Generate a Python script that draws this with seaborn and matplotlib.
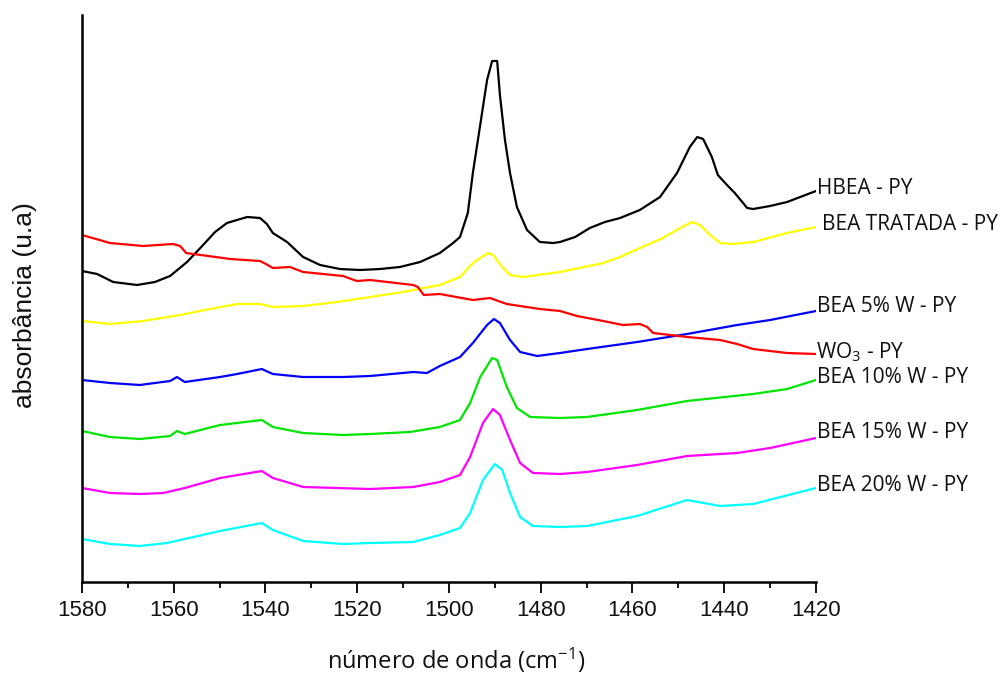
import numpy as np
import pandas as pd
import matplotlib
matplotlib.use("Agg")
import matplotlib.pyplot as plt
from matplotlib.ticker import MultipleLocator
import seaborn as sns

# FTIR spectra of adsorbed pyridine (stacked, arbitrary units)
hbea_wn = [1580.0, 1576.7, 1573.2, 1568.0, 1564.1, 1560.8, 1557.1, 1553.6, 1551.0, 1548.4,
           1544.0, 1541.2, 1539.7, 1538.4, 1535.3, 1531.8, 1528.1, 1523.8, 1519.4, 1515.0,
           1510.7, 1506.3, 1502.0, 1499.1, 1497.6, 1495.9, 1494.8, 1493.7, 1492.6, 1491.7,
           1490.6, 1489.5, 1488.9, 1487.8, 1486.7, 1485.2, 1483.0, 1480.2, 1477.3, 1475.8,
           1472.5, 1469.3, 1466.0, 1462.7, 1458.4, 1454.0, 1450.3, 1447.5, 1445.9, 1444.6,
           1442.7, 1441.4, 1439.4, 1437.7, 1435.0, 1433.7, 1430.0, 1426.3, 1420.0]
hbea_abs = [3.09, 3.06, 2.98, 2.95, 2.98, 3.04, 3.18, 3.35, 3.48, 3.57,
            3.63, 3.62, 3.56, 3.47, 3.38, 3.23, 3.15, 3.11, 3.10, 3.11,
            3.13, 3.18, 3.27, 3.37, 3.43, 3.67, 4.07, 4.40, 4.73, 5.00,
            5.19, 5.19, 4.85, 4.40, 4.07, 3.73, 3.50, 3.38, 3.37, 3.38,
            3.43, 3.52, 3.58, 3.62, 3.70, 3.83, 4.07, 4.33, 4.43, 4.41,
            4.23, 4.05, 3.95, 3.87, 3.72, 3.71, 3.74, 3.78, 3.89]

tratada_wn = [1580.0, 1573.9, 1566.7, 1558.6, 1552.1, 1546.2, 1541.2, 1538.4, 1531.8, 1524.4,
              1517.2, 1510.0, 1502.0, 1497.6, 1494.8, 1493.2, 1491.5, 1490.4, 1488.4, 1486.7,
              1483.9, 1475.8, 1466.4, 1462.7, 1458.4, 1453.4, 1449.2, 1447.0, 1445.3, 1443.1,
              1440.9, 1438.1, 1433.7, 1426.3, 1420.0]
tratada_abs = [2.59, 2.56, 2.59, 2.65, 2.71, 2.76, 2.76, 2.73, 2.74, 2.78,
               2.83, 2.88, 2.95, 3.03, 3.17, 3.22, 3.27, 3.25, 3.13, 3.05,
               3.03, 3.08, 3.17, 3.23, 3.32, 3.42, 3.53, 3.58, 3.55, 3.45,
               3.37, 3.36, 3.38, 3.47, 3.53]

wo3_wn = [1580.0, 1573.9, 1566.7, 1560.2, 1558.6, 1557.3, 1547.7, 1541.2, 1539.9, 1538.4,
          1534.7, 1531.8, 1523.1, 1520.1, 1517.2, 1507.8, 1506.8, 1505.5, 1502.0, 1494.8,
          1491.1, 1487.4, 1480.2, 1475.8, 1472.1, 1466.4, 1462.1, 1458.4, 1456.8, 1455.5,
          1448.1, 1440.9, 1437.2, 1433.7, 1426.3, 1420.0]
wo3_abs = [3.45, 3.37, 3.34, 3.36, 3.34, 3.27, 3.21, 3.19, 3.16, 3.12,
           3.13, 3.08, 3.04, 2.99, 3.00, 2.95, 2.93, 2.85, 2.86, 2.80,
           2.82, 2.76, 2.71, 2.69, 2.64, 2.59, 2.55, 2.56, 2.53, 2.47,
           2.43, 2.40, 2.36, 2.31, 2.27, 2.26]

w5_wn = [1580.0, 1573.9, 1567.4, 1560.8, 1559.3, 1557.6, 1549.9, 1546.2, 1540.8, 1538.4,
         1531.8, 1523.1, 1517.2, 1507.8, 1504.8, 1502.0, 1497.6, 1494.8, 1491.7, 1490.2,
         1488.9, 1486.7, 1484.5, 1480.8, 1475.8, 1469.9, 1459.0, 1448.1, 1437.2, 1430.0,
         1420.0]
w5_abs = [2.00, 1.97, 1.95, 1.99, 2.03, 1.98, 2.03, 2.06, 2.11, 2.06,
          2.03, 2.03, 2.04, 2.08, 2.07, 2.14, 2.23, 2.37, 2.55, 2.61,
          2.57, 2.40, 2.28, 2.24, 2.27, 2.31, 2.38, 2.46, 2.55, 2.60,
          2.69]

w10_wn = [1580.0, 1573.9, 1567.4, 1560.8, 1559.3, 1557.6, 1549.9, 1540.8, 1538.4, 1531.8,
          1523.1, 1517.2, 1508.5, 1502.0, 1497.6, 1495.4, 1493.2, 1490.6, 1489.5, 1487.4,
          1485.2, 1482.3, 1475.8, 1469.9, 1459.0, 1448.1, 1433.7, 1426.3, 1420.0]
w10_abs = [1.49, 1.43, 1.41, 1.44, 1.49, 1.46, 1.55, 1.60, 1.53, 1.47,
           1.45, 1.46, 1.48, 1.53, 1.60, 1.77, 2.03, 2.22, 2.20, 1.93,
           1.72, 1.63, 1.62, 1.63, 1.70, 1.79, 1.86, 1.91, 2.00]

w15_wn = [1580.0, 1573.9, 1567.4, 1562.3, 1557.6, 1549.9, 1540.8, 1538.4, 1531.8, 1517.2,
          1507.8, 1502.0, 1497.6, 1495.4, 1492.6, 1490.4, 1488.9, 1486.7, 1484.5, 1481.7,
          1475.8, 1469.9, 1459.0, 1448.1, 1437.2, 1430.0, 1420.0]
w15_abs = [0.92, 0.87, 0.86, 0.87, 0.92, 1.02, 1.09, 1.02, 0.93, 0.91,
           0.93, 0.98, 1.05, 1.23, 1.57, 1.71, 1.65, 1.40, 1.17, 1.07,
           1.06, 1.08, 1.15, 1.24, 1.27, 1.32, 1.42]

w20_wn = [1580.0, 1573.9, 1567.4, 1561.5, 1549.9, 1540.8, 1538.4, 1531.8, 1523.1, 1517.2,
          1507.8, 1502.0, 1497.6, 1495.4, 1492.6, 1490.0, 1488.4, 1486.7, 1484.5, 1481.7,
          1475.8, 1469.9, 1459.0, 1448.1, 1440.9, 1433.7, 1420.0]
w20_abs = [0.41, 0.36, 0.34, 0.37, 0.49, 0.57, 0.50, 0.39, 0.36, 0.37,
           0.38, 0.45, 0.52, 0.67, 1.00, 1.16, 1.10, 0.87, 0.63, 0.54,
           0.53, 0.54, 0.64, 0.80, 0.74, 0.76, 0.92]

series_names = ["HBEA - PY", "BEA TRATADA - PY", "BEA 5% W - PY", "WO$_3$ - PY",
                "BEA 10% W - PY", "BEA 15% W - PY", "BEA 20% W - PY"]
series_wn = [hbea_wn, tratada_wn, w5_wn, wo3_wn, w10_wn, w15_wn, w20_wn]
series_abs = [hbea_abs, tratada_abs, w5_abs, wo3_abs, w10_abs, w15_abs, w20_abs]
series_colors = ["#000000", "#ffff00", "#0000ff", "#ff0000", "#00e600", "#ff00ff", "#00ffff"]
x_ticks = [1580, 1560, 1540, 1520, 1500, 1480, 1460, 1440, 1420]

frames = []
for name, wn, ab in zip(series_names, series_wn, series_abs):
    frames.append(pd.DataFrame({"wn": wn, "abs": ab, "amostra": name}))
df = pd.concat(frames, ignore_index=True)

sns.set_theme(style="white")
plt.rcParams["font.family"] = ["Open Sans", "DejaVu Sans"]
plt.rcParams["mathtext.fontset"] = "custom"
plt.rcParams["mathtext.rm"] = "Open Sans"
plt.rcParams["mathtext.it"] = "Open Sans:italic"

fig = plt.figure(figsize=(10.02, 6.77), dpi=100)
ax = fig.add_axes([82 / 1002, 1 - 582 / 677, (816 - 82) / 1002, (582 - 15) / 677])

sns.lineplot(data=df, x="wn", y="abs", hue="amostra", hue_order=series_names,
             palette=dict(zip(series_names, series_colors)), estimator=None,
             sort=False, linewidth=1.6, legend=False, ax=ax)

ax.set_xlim(1580, 1420)
ax.set_ylim(-0.02, 5.65)
ax.set_xticks(x_ticks)
ax.xaxis.set_minor_locator(MultipleLocator(10))
ax.set_yticks([])
ax.tick_params(axis="x", which="major", direction="out", length=8, width=1.3,
               color="black", labelsize=16, pad=5, bottom=True)
ax.tick_params(axis="x", which="minor", direction="out", length=4.5, width=1.3,
               color="black", bottom=True)
for lab in ax.get_xticklabels():
    lab.set_family(["Liberation Sans", "DejaVu Sans"])
    lab.set_color("#111111")

for side in ["top", "right"]:
    ax.spines[side].set_visible(False)
for side in ["left", "bottom"]:
    ax.spines[side].set_color("black")
    ax.spines[side].set_linewidth(1.8)

ax.set_xlabel("número de onda (cm$^{-1}$)", fontsize=17, color="#111111")
ax.xaxis.label.set_va("center")
ax.xaxis.set_label_coords(0.51, (582 - 660) / 567)
ax.set_ylabel("absorbância (u.a)", fontsize=19, color="#111111",
              family=["Liberation Sans", "DejaVu Sans"])
ax.yaxis.label.set_va("center")
ax.yaxis.set_label_coords((25 - 82) / 734, (582 - 305) / 567)

# curve labels at the right-hand end of each spectrum
label_dx = [1, 4, 1, 0, 1, 1, 1]
label_dy = [2, 2, 3, 1, 2, 4, 2]
for name, ab, dx, dy in zip(series_names, series_abs, label_dx, label_dy):
    ax.annotate(name, xy=(1420, ab[-1]), xycoords="data",
                xytext=(dx, dy), textcoords="offset points",
                ha="left", va="center", fontsize=15, color="#111111",
                annotation_clip=False)

fig.savefig("out.png", dpi=100, facecolor="white")
